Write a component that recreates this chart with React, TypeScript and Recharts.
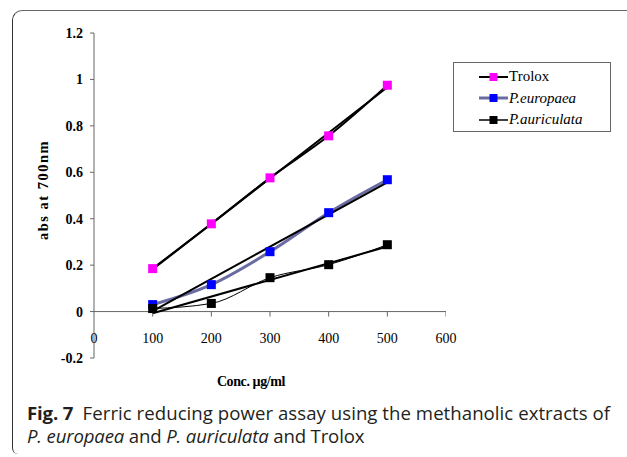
import React from "react";
import {
  ComposedChart,
  Line,
  Scatter,
  XAxis,
  YAxis,
  ReferenceLine,
} from "recharts";

// ---- data ----
const concentrations = [100, 200, 300, 400, 500];
const troloxValues = [0.185, 0.378, 0.576, 0.757, 0.975];
const europaeaValues = [0.03, 0.116, 0.258, 0.426, 0.568];
const auriculataValues = [0.013, 0.035, 0.146, 0.202, 0.288];

// linear trend lines (end points)
const trendX = [100, 500];
const troloxTrend = [0.182, 0.966];
const europaeaTrend = [0.002, 0.557];
const auriculataTrend = [-0.007, 0.28];

const xTicks = [0, 100, 200, 300, 400, 500, 600];
const xTickMarks = [100, 200, 300, 400, 500, 600];
const yTicks = [-0.2, 0, 0.2, 0.4, 0.6, 0.8, 1, 1.2];

const seriesNames = ["Trolox", "P.europaea", "P.auriculata"];

const toPoints = (xs: number[], ys: number[]) =>
  xs.map((x, i) => ({ x, y: ys[i] }));

const troloxData = toPoints(concentrations, troloxValues);
const europaeaData = toPoints(concentrations, europaeaValues);
const auriculataData = toPoints(concentrations, auriculataValues);
const troloxTrendData = toPoints(trendX, troloxTrend);
const europaeaTrendData = toPoints(trendX, europaeaTrend);
const auriculataTrendData = toPoints(trendX, auriculataTrend);
const tickMarkData = xTickMarks.map((x) => ({ x, y: 0 }));

const SERIF = "'Liberation Serif', 'Times New Roman', serif";
const SANS = "'Open Sans', 'Noto Sans', sans-serif";
const AXIS = "#666";

const squareDot = (fill: string) => (props: any) => {
  const { cx, cy, index } = props;
  if (cx == null || cy == null) return <g key={index} />;
  return (
    <rect key={index} x={cx - 4.5} y={cy - 4.5} width={9} height={9} fill={fill} />
  );
};

const legendItems = [
  { name: seriesNames[0], line: "#000", lineW: 2, marker: "#ff00ff", italic: false },
  { name: seriesNames[1], line: "#6b6ba3", lineW: 3, marker: "#0000ff", italic: true },
  { name: seriesNames[2], line: "#000", lineW: 1.5, marker: "#000", italic: true },
];

const XTick = (props: any) => {
  const { x, y, payload } = props;
  return (
    <text
      x={x}
      y={y}
      dy={-15}
      textAnchor="middle"
      fontFamily={SERIF}
      fontSize={14}
      fill="#000"
    >
      {payload.value}
    </text>
  );
};

export default function App() {
  return (
    <div
      style={{
        position: "absolute",
        left: 0,
        top: 0,
        width: 627,
        height: 457,
        background: "#fff",
        overflow: "hidden",
      }}
    >
      {/* frame */}
      <div
        style={{
          position: "absolute",
          left: 12,
          top: 10,
          width: 660,
          height: 444,
          borderTop: "1.5px solid #666",
          borderLeft: "1.2px solid #333",
          borderTopLeftRadius: 10,
          borderBottomLeftRadius: 6,
          boxSizing: "border-box",
        }}
      />
      <div style={{ position: "absolute", left: 0, top: 0 }}>
        <ComposedChart
          width={627}
          height={457}
          margin={{ top: 33, right: 181, bottom: 79, left: 0 }}
        >
          <XAxis
            dataKey="x"
            type="number"
            domain={[0, 600]}
            ticks={xTicks}
            axisLine={false}
            tickLine={false}
            tickSize={0}
            tickMargin={0}
            height={20}
            tick={<XTick />}
            interval={0}
            allowDataOverflow
          />
          <YAxis
            type="number"
            domain={[-0.2, 1.2]}
            ticks={yTicks}
            width={94}
            stroke={AXIS}
            tickSize={4}
            tickMargin={7}
            interval={0}
            tickFormatter={(v: number) => String(Math.round(v * 10) / 10)}
            tick={{
              fill: "#000",
              fontFamily: SERIF,
              fontSize: 14,
              fontWeight: "bold",
            }}
            allowDataOverflow
          />
          <ReferenceLine y={0} stroke={AXIS} strokeWidth={1} />
          <Scatter
            data={tickMarkData}
            dataKey="y"
            isAnimationActive={false}
            shape={(p: any) => (
              <line x1={p.cx} y1={p.cy} x2={p.cx} y2={p.cy + 5} stroke={AXIS} />
            )}
          />
          <Line
            data={europaeaData}
            dataKey="y"
            type="monotone"
            stroke="#6b6ba3"
            strokeWidth={3}
            dot={squareDot("#0000ff")}
            activeDot={false}
            isAnimationActive={false}
          />
          <Line
            data={troloxData}
            dataKey="y"
            type="monotone"
            stroke="#000"
            strokeWidth={2}
            dot={squareDot("#ff00ff")}
            activeDot={false}
            isAnimationActive={false}
          />
          <Line
            data={auriculataData}
            dataKey="y"
            type="monotone"
            stroke="#000"
            strokeWidth={1}
            dot={squareDot("#000")}
            activeDot={false}
            isAnimationActive={false}
          />
          <Line
            data={troloxTrendData}
            dataKey="y"
            type="linear"
            stroke="#000"
            strokeWidth={2}
            dot={false}
            activeDot={false}
            isAnimationActive={false}
          />
          <Line
            data={europaeaTrendData}
            dataKey="y"
            type="linear"
            stroke="#000"
            strokeWidth={2}
            dot={false}
            activeDot={false}
            isAnimationActive={false}
          />
          <Line
            data={auriculataTrendData}
            dataKey="y"
            type="linear"
            stroke="#000"
            strokeWidth={2}
            dot={false}
            activeDot={false}
            isAnimationActive={false}
          />
        </ComposedChart>
      </div>

      {/* y axis title */}
      <div
        style={{
          position: "absolute",
          left: 43,
          top: 190,
          transform: "translate(-50%, -50%) rotate(-90deg)",
          whiteSpace: "nowrap",
          fontFamily: SERIF,
          fontWeight: "bold",
          fontSize: 14.5,
          letterSpacing: 1.5,
          lineHeight: "16px",
        }}
      >
        abs at 700nm
      </div>

      {/* x axis title */}
      <div
        style={{
          position: "absolute",
          left: 251,
          top: 382,
          transform: "translate(-50%, -50%)",
          whiteSpace: "nowrap",
          fontFamily: SERIF,
          fontWeight: "bold",
          fontSize: 14,
          letterSpacing: -0.4,
          lineHeight: "16px",
        }}
      >
        Conc. µg/ml
      </div>

      {/* legend */}
      <div
        style={{
          position: "absolute",
          left: 453,
          top: 62,
          width: 158,
          height: 70,
          border: "1px solid #666",
          boxSizing: "border-box",
          paddingTop: 3,
        }}
      >
        {legendItems.map((it) => (
          <div
            key={it.name}
            style={{
              display: "flex",
              alignItems: "center",
              height: 21.5,
              paddingLeft: 25,
              fontFamily: SERIF,
              fontSize: 15,
              fontStyle: it.italic ? "italic" : "normal",
            }}
          >
            <svg width={30} height={12} style={{ display: "block" }}>
              <line x1={0} y1={6} x2={29} y2={6} stroke={it.line} strokeWidth={it.lineW} />
              <rect x={10.5} y={2} width={8} height={8} fill={it.marker} />
            </svg>
            <span>{it.name}</span>
          </div>
        ))}
      </div>

      {/* caption */}
      <div
        style={{
          position: "absolute",
          left: 27,
          top: 401,
          fontFamily: SANS,
          fontSize: 18.6,
          letterSpacing: -0.15,
          lineHeight: "23px",
          color: "#231f20",
          whiteSpace: "nowrap",
        }}
      >
        <div>
          <b>Fig. 7</b>
          <span style={{ letterSpacing: 0.05 }}>
            {"\u2002Ferric reducing power assay using the methanolic extracts of"}
          </span>
        </div>
        <div>
          <i>P. europaea</i> and <i>P. auriculata</i> and Trolox
        </div>
      </div>
    </div>
  );
}
